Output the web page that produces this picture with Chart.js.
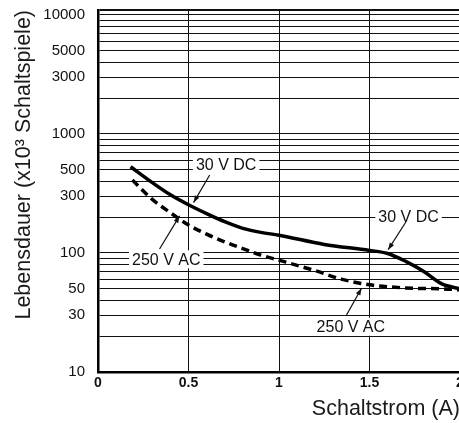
<!DOCTYPE html>
<html><head><meta charset="utf-8">
<script src="https://cdn.jsdelivr.net/npm/chart.js@4/dist/chart.umd.min.js"></script>
<style>html,body{margin:0;padding:0;overflow:hidden;background:#fff}#wrap{width:460px;height:423px}</style>
</head><body><div id="wrap"><canvas id="c" width="460" height="423"></canvas></div>
<script>
// ---- data ----
const dcCurrent = [0.18, 0.3, 0.4, 0.5, 0.6, 0.7, 0.8, 0.9, 1.0, 1.25, 1.5, 1.6, 1.7, 1.8, 1.9, 2.0];
const dcLife    = [530, 390, 308, 254, 214, 183, 161, 149, 141, 118, 105, 99, 85, 70, 55, 50];
const acCurrent = [0.19, 0.3, 0.4, 0.5, 0.6, 0.7, 0.8, 0.9, 1.0, 1.2, 1.35, 1.5, 1.6, 1.75, 1.9, 2.0];
const acLife    = [410, 282, 218, 172, 144, 124, 109, 96, 87, 71, 60, 54, 52, 50.5, 50, 49];
const xTickValues = [0, 0.5, 1, 1.5, 2];
const xTickLabels = ['0', '0.5', '1', '1.5', '2'];
const yGridValues = [10,20,30,40,50,60,70,80,90,100,200,300,400,500,600,700,800,900,1000,2000,3000,4000,5000,6000,7000,8000,9000,10000];
const yTickLabels = ['10','30','50','100','300','500','1000','3000','5000','10000'];
const seriesNames = ['30 V DC', '250 V AC'];
const xTitle = 'Schaltstrom (A)';
const yTitle = 'Lebensdauer (x10³ Schaltspiele)';
const yMin = 10, yMax = 11000, xMin = 0, xMax = 2;

// annotation placement (data coordinates)
const annotations = [
  {text: seriesNames[0], x: 0.708, y: 548, fromX: 0.617, fromY: 452, toX: 0.528, toY: 265},
  {text: seriesNames[1], x: 0.377, y: 88.5, fromX: 0.340, fromY: 108, toX: 0.451, toY: 205},
  {text: seriesNames[0], x: 1.716, y: 202, fromX: 1.701, fromY: 182, toX: 1.603, toY: 106.6},
  {text: seriesNames[1], x: 1.397, y: 24, fromX: 1.373, fromY: 30.1, toX: 1.456, toY: 50.5}
];

const FONT = '"Liberation Sans", Arial, Helvetica, sans-serif';
Chart.defaults.font.family = FONT;
Chart.defaults.color = '#111';

const annoPlugin = {
  id: 'anno',
  afterDatasetsDraw(chart) {
    const {ctx, scales: {x, y}} = chart;
    ctx.save();
    ctx.font = '16px ' + FONT;
    ctx.textAlign = 'center';
    ctx.textBaseline = 'middle';
    annotations.forEach(a => {
      const tx = x.getPixelForValue(a.x), ty = y.getPixelForValue(a.y);
      const w = ctx.measureText(a.text).width;
      ctx.fillStyle = '#fff';
      ctx.fillRect(tx - w / 2 - 3, ty - 9, w + 6, 18);
      ctx.fillStyle = '#111';
      ctx.fillText(a.text, tx, ty + 1);
      const x1 = x.getPixelForValue(a.fromX), y1 = y.getPixelForValue(a.fromY);
      const x2 = x.getPixelForValue(a.toX), y2 = y.getPixelForValue(a.toY);
      ctx.strokeStyle = '#111';
      ctx.lineWidth = 1.2;
      ctx.beginPath(); ctx.moveTo(x1, y1); ctx.lineTo(x2, y2); ctx.stroke();
      const ang = Math.atan2(y2 - y1, x2 - x1);
      const L = 7, W = 2.5;
      ctx.beginPath();
      ctx.moveTo(x2, y2);
      ctx.lineTo(x2 - L * Math.cos(ang) + W * Math.sin(ang), y2 - L * Math.sin(ang) - W * Math.cos(ang));
      ctx.lineTo(x2 - L * Math.cos(ang) - W * Math.sin(ang), y2 - L * Math.sin(ang) + W * Math.cos(ang));
      ctx.closePath(); ctx.fill();
    });
    ctx.restore();
  }
};

new Chart(document.getElementById('c'), {
  type: 'line',
  data: {
    datasets: [
      {label: seriesNames[0], data: dcCurrent.map((v, i) => ({x: v, y: dcLife[i]})),
       borderColor: '#000', borderWidth: 3.5, pointRadius: 0, fill: false, cubicInterpolationMode: 'monotone'},
      {label: seriesNames[1], data: acCurrent.map((v, i) => ({x: v, y: acLife[i]})),
       borderColor: '#000', borderWidth: 3.5, borderDash: [8, 5], pointRadius: 0, fill: false, cubicInterpolationMode: 'monotone'}
    ]
  },
  options: {
    responsive: false,
    animation: false,
    devicePixelRatio: 1,
    layout: {padding: {top: 10, left: 0, right: 0, bottom: 0}},
    plugins: {legend: {display: false}, tooltip: {enabled: false}},
    scales: {
      x: {
        type: 'linear', min: xMin, max: xMax,
        afterBuildTicks: s => { s.ticks = xTickValues.map(v => ({value: v})); },
        afterFit: s => { s.height = 51; s.paddingLeft = 0; s.paddingRight = 0; },
        ticks: {autoSkip: false, maxRotation: 0, padding: 3, color: '#111',
                font: {size: 14, weight: 'bold'},
                callback: (v, i) => xTickLabels[i]},
        grid: {color: '#111', lineWidth: 1, drawTicks: false},
        border: {display: true, color: '#000', width: 2.5},
        title: {display: true, text: xTitle, align: 'end', color: '#1a1a1a',
                font: {size: 21.5}, padding: {top: 0, bottom: 1}}
      },
      y: {
        type: 'logarithmic', min: yMin, max: yMax,
        afterBuildTicks: s => { s.ticks = yGridValues.concat([yMax]).map(v => ({value: v})); },
        afterFit: s => { s.width = 98; s.paddingTop = 0; s.paddingBottom = 0; },
        ticks: {autoSkip: false, padding: 13, color: '#111', font: {size: 15},
                callback: v => yTickLabels.includes(String(v)) ? String(v) : ''},
        grid: {color: '#111', drawTicks: false,
               lineWidth: c => (c.tick && c.tick.value === yMax) ? 2 : 1},
        border: {display: true, color: '#000', width: 2.5},
        title: {display: true, text: yTitle, align: 'end', color: '#1a1a1a',
                font: {size: 21.5}, padding: {top: 11, bottom: 0}}
      }
    }
  },
  plugins: [annoPlugin]
});
</script>
</body></html>
